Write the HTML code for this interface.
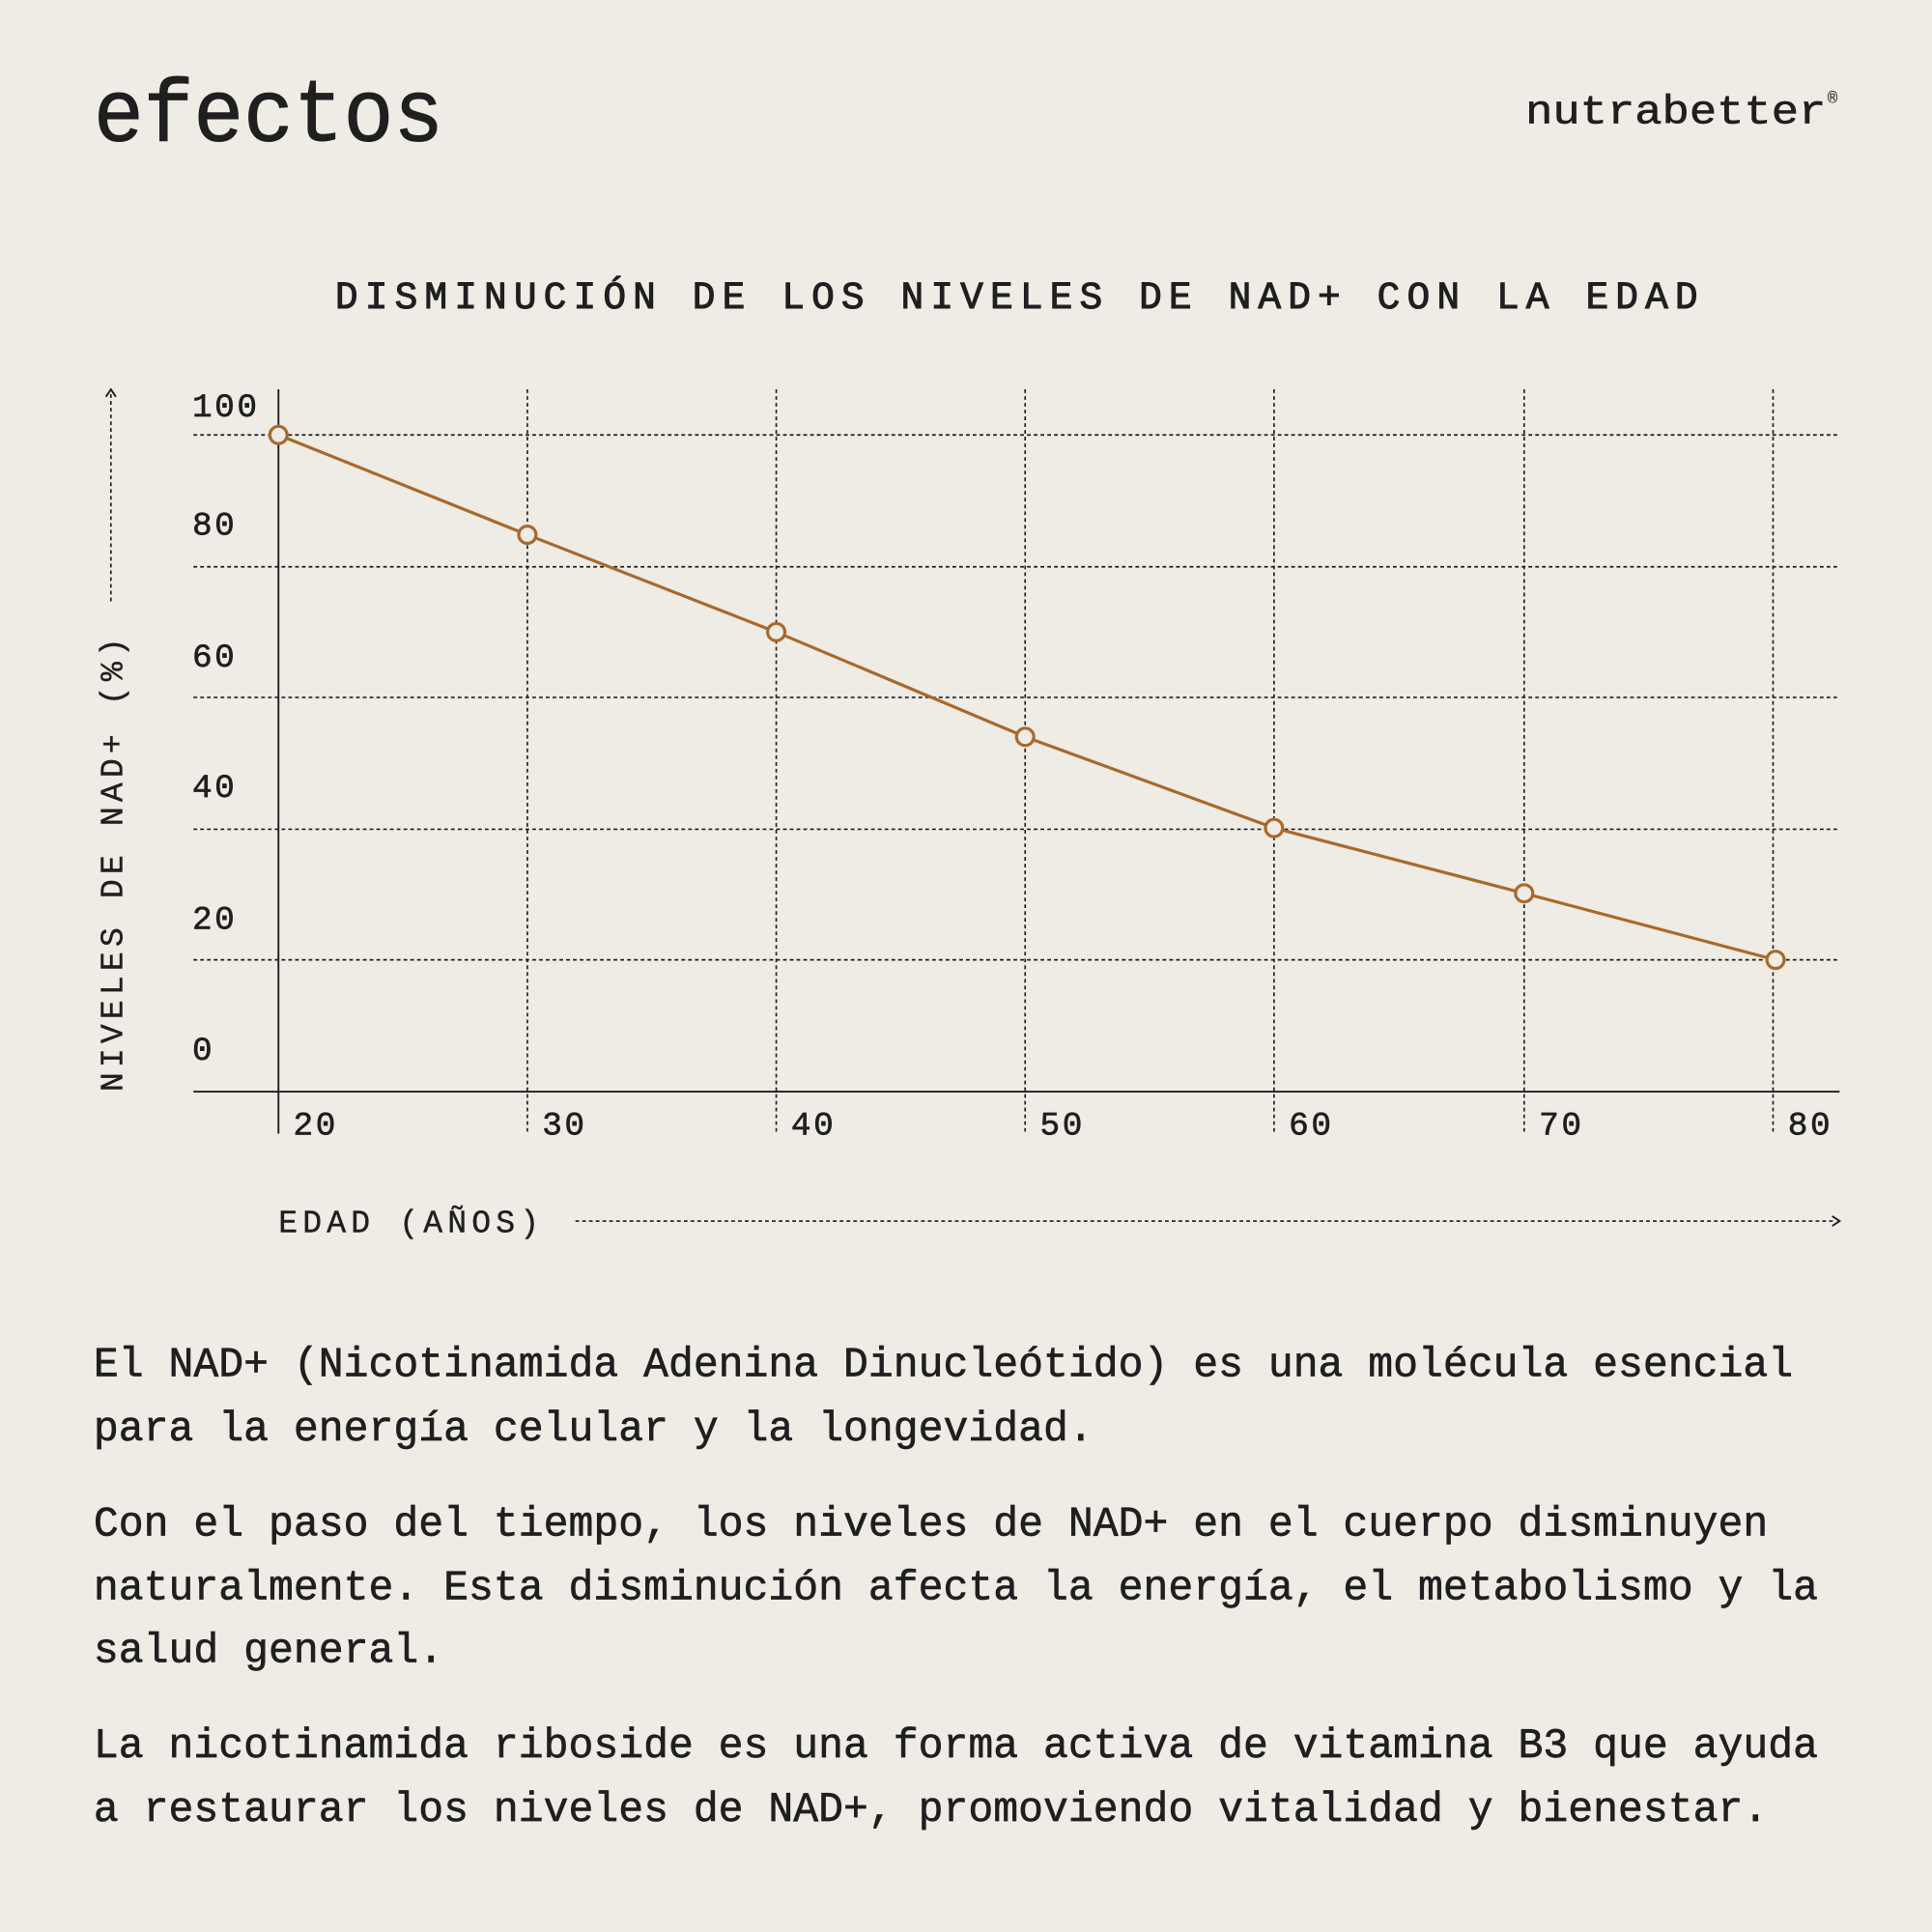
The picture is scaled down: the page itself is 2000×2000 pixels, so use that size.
<!DOCTYPE html>
<html><head><meta charset="utf-8"><style>
html,body{margin:0;padding:0;background:#efebe5;}
svg{display:block}
text{font-family:"Liberation Mono",monospace;fill:#1f1f1f;stroke:#1f1f1f;stroke-width:0.5}
</style></head><body>
<svg width="2000" height="2000" viewBox="0 0 1568 1568" xmlns="http://www.w3.org/2000/svg">
<rect width="1568" height="1568" fill="#efebe5"/>
<text x="76" y="114" font-size="72" textLength="284" lengthAdjust="spacingAndGlyphs" style="stroke-width:0.8">efectos</text>
<text x="1238" y="100" font-size="33" textLength="244" lengthAdjust="spacingAndGlyphs">nutrabetter</text>
<text x="1483" y="84" font-size="14" style="stroke-width:0">®</text>
<text x="272" y="250" font-size="31" textLength="1106" lengthAdjust="spacing" style="stroke-width:0.8">DISMINUCIÓN DE LOS NIVELES DE NAD+ CON LA EDAD</text>
<g stroke="#1f1f1f" stroke-width="1.3" stroke-dasharray="3,2.5" fill="none">
<line x1="157" y1="353" x2="1493" y2="353"/>
<line x1="157" y1="460" x2="1493" y2="460"/>
<line x1="157" y1="566" x2="1493" y2="566"/>
<line x1="157" y1="673" x2="1493" y2="673"/>
<line x1="157" y1="779" x2="1493" y2="779"/>
<line x1="428" y1="316" x2="428" y2="920"/>
<line x1="630" y1="316" x2="630" y2="920"/>
<line x1="832" y1="316" x2="832" y2="920"/>
<line x1="1034" y1="316" x2="1034" y2="920"/>
<line x1="1237" y1="316" x2="1237" y2="920"/>
<line x1="1439" y1="316" x2="1439" y2="920"/>
<line x1="90" y1="488" x2="90" y2="318"/>
<line x1="467" y1="991" x2="1490" y2="991"/>
</g>
<g stroke="#1f1f1f" stroke-width="1.5" fill="none">
<line x1="226" y1="316" x2="226" y2="920"/>
<line x1="157" y1="886" x2="1493" y2="886"/>
<polyline points="86,322 90,316 94,322"/>
<polyline points="1487,987 1493,991 1487,995"/>
</g>
<g font-size="27" letter-spacing="2" style="stroke-width:0.7">
<text x="156" y="338">100</text>
<text x="156" y="434">80</text>
<text x="156" y="541">60</text>
<text x="156" y="647">40</text>
<text x="156" y="754">20</text>
<text x="156" y="860">0</text>
<text x="238" y="921">20</text>
<text x="440" y="921">30</text>
<text x="642" y="921">40</text>
<text x="844" y="921">50</text>
<text x="1046" y="921">60</text>
<text x="1249" y="921">70</text>
<text x="1451" y="921">80</text>
</g>
<text transform="translate(99,886) rotate(-90)" font-size="26" letter-spacing="4" style="stroke-width:0.3">NIVELES DE NAD+ (%)</text>
<text x="226" y="1000" font-size="26" letter-spacing="4" style="stroke-width:0.3">EDAD (AÑOS)</text>
<polyline points="226,353 428,434 630,513 832,598 1034,672 1237,725 1441,779" fill="none" stroke="#a8692a" stroke-width="2.5"/>
<g fill="#efebe5" stroke="#a8692a" stroke-width="2.5">
<circle cx="226" cy="353" r="7"/><circle cx="428" cy="434" r="7"/><circle cx="630" cy="513" r="7"/><circle cx="832" cy="598" r="7"/><circle cx="1034" cy="672" r="7"/><circle cx="1237" cy="725" r="7"/><circle cx="1441" cy="779" r="7"/>
</g>
<g font-size="33.8" style="stroke-width:0.8">
<text x="76" y="1117">El NAD+ (Nicotinamida Adenina Dinucleótido) es una molécula esencial</text>
<text x="76" y="1169">para la energía celular y la longevidad.</text>
<text x="76" y="1246">Con el paso del tiempo, los niveles de NAD+ en el cuerpo disminuyen</text>
<text x="76" y="1298">naturalmente. Esta disminución afecta la energía, el metabolismo y la</text>
<text x="76" y="1349">salud general.</text>
<text x="76" y="1426">La nicotinamida riboside es una forma activa de vitamina B3 que ayuda</text>
<text x="76" y="1478">a restaurar los niveles de NAD+, promoviendo vitalidad y bienestar.</text>
</g>
</svg>
</body></html>
